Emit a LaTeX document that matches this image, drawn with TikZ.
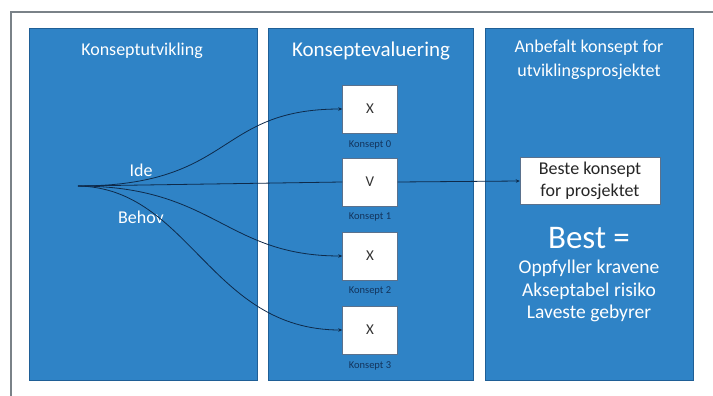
\documentclass[tikz,border=0pt]{standalone}
\usepackage{fontspec}
\setmainfont{Carlito}
\usetikzlibrary{arrows.meta}
\definecolor{panelblue}{HTML}{2F83C6}
\definecolor{paneledge}{HTML}{1F5F96}
\definecolor{linenavy}{HTML}{0E2A4A}
\definecolor{labelnavy}{HTML}{13345C}
\definecolor{framegray}{HTML}{7A8288}
\tikzset{
  panel/.style={fill=panelblue, draw=paneledge, line width=0.8pt},
  hdr/.style={text=white, align=center, font=\fontsize{18}{24}\selectfont},
  kbox/.style={fill=white, draw=labelnavy!70, line width=0.4pt, minimum width=55pt, minimum height=48pt, inner sep=0pt, font=\fontsize{15}{17}\selectfont, text=black!80},
  klabel/.style={text=labelnavy, font=\fontsize{10.5}{12}\selectfont, inner sep=0pt},
  conn/.style={draw=linenavy, line width=0.8pt},
  tip/.style={-{Stealth[length=4pt,width=3.5pt]}},
  wtxt/.style={text=white, align=center, inner sep=0pt}
}
\begin{document}
\begin{tikzpicture}[x=1pt,y=-1pt]
\useasboundingbox (0,0) rectangle (713,396);
\fill[white] (0,0) rectangle (713,396);
\draw[framegray, line width=1.2pt] (11,396) -- (11,12) -- (713,12);
% panels
\path[panel] (29,28) rectangle (257,380);
\path[panel] (268,28) rectangle (473,380);
\path[panel] (485,28) rectangle (693,380);
% headers
\node[hdr] (h1) at (142,51) {Konseptutvikling};
\node[hdr, font=\fontsize{21}{24}\selectfont] (h2) at (371,51) {Konseptevaluering};
\node[hdr] (h3) at (589,60) {Anbefalt konsept for\\utviklingsprosjektet};
% left texts
\node[wtxt, font=\fontsize{18}{21}\selectfont] (ide) at (141,170) {Ide};
\node[wtxt, font=\fontsize{18}{21}\selectfont] (behov) at (141,217) {Behov};
% concept boxes
\node[kbox] (k0) at (370,109) {X};
\node[kbox] (k1) at (370,182) {V};
\node[kbox] (k2) at (370,256) {X};
\node[kbox] (k3) at (370,330) {X};
\node[klabel] (l0) at (370,145) {Konsept 0};
\node[klabel] (l1) at (370,217) {Konsept 1};
\node[klabel] (l2) at (370,291) {Konsept 2};
\node[klabel] (l3) at (370,366) {Konsept 3};
% best box
\node[fill=white, draw=labelnavy!70, line width=0.4pt, minimum width=140pt, minimum height=47pt, align=center, inner sep=2pt, font=\fontsize{18}{22.5}\selectfont, text=black!85] (best) at (590,181) {Beste konsept\\for prosjektet};
\node[wtxt, font=\fontsize{33}{38}\selectfont] (beq) at (589,238) {Best =};
\node[wtxt, font=\fontsize{19.5}{22.5}\selectfont] (crit) at (589,291) {Oppfyller kravene\\Akseptabel risiko\\Laveste gebyrer};
% connectors
\coordinate (o) at (78,186);
\draw[conn, tip] (o) .. controls (235,186) and (215,109) .. (k0.west);
\draw[conn] (o) -- (k1.west);
\draw[conn, tip] (k1.east) -- (best.west);
\draw[conn, tip] (o) .. controls (215,186) and (225,256) .. (k2.west);
\draw[conn, tip] (o) .. controls (190,188) and (210,330) .. (k3.west);
\end{tikzpicture}
\end{document}
